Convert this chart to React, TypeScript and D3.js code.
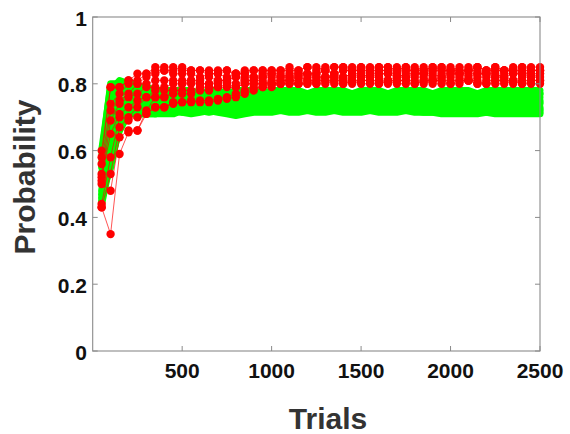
import React from "react";
import * as d3 from "d3";

const TRIALS = [
  50, 100, 150, 200, 250, 300, 350, 400, 450, 500,
  550, 600, 650, 700, 750, 800, 850, 900, 950, 1000,
  1050, 1100, 1150, 1200, 1250, 1300, 1350, 1400, 1450, 1500,
  1550, 1600, 1650, 1700, 1750, 1800, 1850, 1900, 1950, 2000,
  2050, 2100, 2150, 2200, 2250, 2300, 2350, 2400, 2450, 2500,
];

const X_TICKS = [500, 1000, 1500, 2000, 2500];
const Y_TICKS = [0, 0.2, 0.4, 0.6, 0.8, 1];
const Y_TICK_LABELS = ["0", "0.2", "0.4", "0.6", "0.8", "1"];
const X_LABEL = "Trials";
const Y_LABEL = "Probability";

const RED_1 = [
  0.60, 0.79, 0.79, 0.81, 0.83, 0.83, 0.85, 0.85, 0.85, 0.84,
  0.84, 0.84, 0.83, 0.83, 0.84, 0.83, 0.83, 0.84, 0.84, 0.84,
  0.84, 0.84, 0.84, 0.85, 0.84, 0.85, 0.85, 0.85, 0.85, 0.85,
  0.85, 0.85, 0.85, 0.84, 0.85, 0.85, 0.84, 0.85, 0.85, 0.84,
  0.85, 0.85, 0.85, 0.84, 0.85, 0.84, 0.85, 0.85, 0.85, 0.85,
];
const RED_2 = [
  0.56, 0.74, 0.77, 0.80, 0.80, 0.82, 0.83, 0.84, 0.83, 0.83,
  0.83, 0.82, 0.83, 0.83, 0.82, 0.83, 0.83, 0.82, 0.83, 0.83,
  0.83, 0.82, 0.83, 0.83, 0.83, 0.84, 0.83, 0.84, 0.84, 0.84,
  0.83, 0.84, 0.84, 0.83, 0.84, 0.84, 0.83, 0.84, 0.84, 0.84,
  0.83, 0.84, 0.84, 0.83, 0.84, 0.84, 0.84, 0.83, 0.84, 0.84,
];
const RED_3 = [
  0.53, 0.72, 0.75, 0.77, 0.80, 0.80, 0.81, 0.81, 0.81, 0.81,
  0.81, 0.81, 0.82, 0.81, 0.81, 0.82, 0.81, 0.81, 0.82, 0.82,
  0.82, 0.82, 0.82, 0.83, 0.82, 0.82, 0.83, 0.82, 0.83, 0.83,
  0.82, 0.83, 0.83, 0.83, 0.82, 0.83, 0.83, 0.82, 0.83, 0.83,
  0.83, 0.82, 0.83, 0.83, 0.83, 0.82, 0.83, 0.83, 0.82, 0.83,
];
const RED_4 = [
  0.51, 0.69, 0.74, 0.76, 0.77, 0.79, 0.79, 0.78, 0.78, 0.80,
  0.80, 0.80, 0.80, 0.80, 0.81, 0.80, 0.81, 0.81, 0.81, 0.80,
  0.81, 0.81, 0.82, 0.81, 0.81, 0.82, 0.82, 0.81, 0.82, 0.82,
  0.82, 0.82, 0.81, 0.82, 0.82, 0.82, 0.82, 0.81, 0.82, 0.82,
  0.82, 0.81, 0.82, 0.82, 0.82, 0.82, 0.81, 0.82, 0.82, 0.82,
];
const RED_5 = [
  0.52, 0.65, 0.71, 0.73, 0.75, 0.76, 0.76, 0.76, 0.78, 0.78,
  0.78, 0.79, 0.79, 0.79, 0.80, 0.79, 0.80, 0.80, 0.80, 0.80,
  0.80, 0.81, 0.80, 0.80, 0.81, 0.81, 0.81, 0.80, 0.81, 0.81,
  0.81, 0.80, 0.81, 0.81, 0.81, 0.81, 0.80, 0.81, 0.81, 0.81,
  0.81, 0.81, 0.80, 0.81, 0.81, 0.81, 0.81, 0.80, 0.81, 0.81,
];
const RED_6 = [
  0.44, 0.58, 0.70, 0.69, 0.70, 0.71, 0.73, 0.73, 0.745, 0.745,
  0.745, 0.75, 0.75, 0.755, 0.76, 0.77, 0.78, 0.79, 0.79, 0.80,
  0.80, 0.80, 0.80, 0.81, 0.80, 0.80, 0.81, 0.81, 0.80, 0.81,
  0.81, 0.81, 0.80, 0.81, 0.81, 0.80, 0.81, 0.81, 0.81, 0.80,
  0.81, 0.81, 0.81, 0.80, 0.81, 0.81, 0.80, 0.81, 0.81, 0.81,
];
const RED_7 = [
  0.43, 0.53, 0.67, 0.70, 0.73, 0.76, 0.78, 0.79, 0.80, 0.80,
  0.81, 0.80, 0.80, 0.81, 0.81, 0.82, 0.82, 0.82, 0.82, 0.83,
  0.82, 0.83, 0.83, 0.83, 0.83, 0.84, 0.83, 0.84, 0.84, 0.84,
  0.84, 0.84, 0.84, 0.85, 0.84, 0.84, 0.84, 0.85, 0.84, 0.84,
  0.84, 0.84, 0.85, 0.84, 0.84, 0.84, 0.84, 0.84, 0.84, 0.84,
];
const RED_8 = [
  0.50, 0.48, 0.64, 0.66, 0.66, 0.72, 0.76, 0.76, 0.77, 0.77,
  0.77, 0.78, 0.78, 0.79, 0.79, 0.79, 0.80, 0.80, 0.80, 0.81,
  0.81, 0.81, 0.81, 0.82, 0.82, 0.82, 0.82, 0.82, 0.83, 0.82,
  0.83, 0.83, 0.83, 0.82, 0.83, 0.83, 0.83, 0.83, 0.82, 0.83,
  0.83, 0.83, 0.83, 0.83, 0.82, 0.83, 0.83, 0.83, 0.83, 0.83,
];
const RED_9 = [
  0.43, 0.35, 0.59, 0.655, 0.66, 0.71, 0.73, 0.73, 0.74, 0.745,
  0.75, 0.745, 0.745, 0.75, 0.755, 0.76, 0.77, 0.78, 0.79, 0.79,
  0.80, 0.80, 0.80, 0.80, 0.80, 0.81, 0.80, 0.80, 0.81, 0.80,
  0.80, 0.80, 0.81, 0.80, 0.80, 0.80, 0.81, 0.80, 0.80, 0.80,
  0.80, 0.81, 0.80, 0.80, 0.80, 0.80, 0.81, 0.80, 0.80, 0.80,
];
const RED_10 = [
  0.58, 0.79, 0.79, 0.81, 0.81, 0.83, 0.84, 0.84, 0.84, 0.85,
  0.84, 0.84, 0.84, 0.84, 0.84, 0.83, 0.84, 0.84, 0.84, 0.84,
  0.84, 0.85, 0.84, 0.85, 0.85, 0.84, 0.85, 0.85, 0.84, 0.85,
  0.84, 0.85, 0.85, 0.84, 0.85, 0.84, 0.85, 0.84, 0.85, 0.85,
  0.84, 0.84, 0.85, 0.84, 0.85, 0.84, 0.84, 0.85, 0.84, 0.84,
];

const GREEN_1 = [
  0.58, 0.80, 0.80, 0.80, 0.79, 0.79, 0.78, 0.78, 0.78, 0.78,
  0.78, 0.77, 0.78, 0.78, 0.77, 0.78, 0.78, 0.78, 0.77, 0.78,
  0.78, 0.78, 0.78, 0.77, 0.78, 0.78, 0.78, 0.78, 0.77, 0.78,
  0.78, 0.78, 0.77, 0.78, 0.78, 0.78, 0.78, 0.77, 0.78, 0.78,
  0.78, 0.78, 0.77, 0.78, 0.78, 0.78, 0.78, 0.78, 0.78, 0.78,
];
const GREEN_2 = [
  0.55, 0.78, 0.81, 0.80, 0.78, 0.77, 0.77, 0.77, 0.76, 0.77,
  0.77, 0.76, 0.76, 0.77, 0.76, 0.76, 0.77, 0.76, 0.77, 0.77,
  0.77, 0.77, 0.76, 0.77, 0.77, 0.77, 0.76, 0.77, 0.77, 0.77,
  0.77, 0.76, 0.77, 0.77, 0.77, 0.77, 0.76, 0.77, 0.77, 0.77,
  0.77, 0.77, 0.76, 0.77, 0.77, 0.77, 0.77, 0.76, 0.77, 0.77,
];
const GREEN_3 = [
  0.52, 0.74, 0.79, 0.81, 0.79, 0.77, 0.76, 0.75, 0.75, 0.76,
  0.76, 0.75, 0.75, 0.75, 0.75, 0.76, 0.76, 0.76, 0.75, 0.76,
  0.76, 0.76, 0.75, 0.76, 0.76, 0.76, 0.76, 0.75, 0.76, 0.76,
  0.76, 0.76, 0.75, 0.76, 0.76, 0.76, 0.75, 0.76, 0.76, 0.76,
  0.76, 0.75, 0.76, 0.76, 0.76, 0.76, 0.75, 0.76, 0.76, 0.76,
];
const GREEN_4 = [
  0.50, 0.70, 0.77, 0.78, 0.77, 0.75, 0.74, 0.74, 0.74, 0.74,
  0.75, 0.75, 0.74, 0.74, 0.75, 0.75, 0.75, 0.74, 0.75, 0.75,
  0.75, 0.74, 0.75, 0.75, 0.75, 0.75, 0.74, 0.75, 0.75, 0.75,
  0.74, 0.75, 0.75, 0.75, 0.75, 0.74, 0.75, 0.75, 0.75, 0.75,
  0.74, 0.75, 0.75, 0.75, 0.74, 0.75, 0.75, 0.75, 0.75, 0.75,
];
const GREEN_5 = [
  0.48, 0.66, 0.74, 0.76, 0.75, 0.74, 0.74, 0.73, 0.73, 0.74,
  0.74, 0.73, 0.74, 0.74, 0.73, 0.73, 0.74, 0.74, 0.74, 0.73,
  0.74, 0.74, 0.74, 0.73, 0.74, 0.74, 0.74, 0.74, 0.73, 0.74,
  0.74, 0.74, 0.73, 0.74, 0.74, 0.74, 0.74, 0.73, 0.74, 0.74,
  0.74, 0.73, 0.74, 0.74, 0.74, 0.74, 0.73, 0.74, 0.74, 0.74,
];
const GREEN_6 = [
  0.46, 0.62, 0.72, 0.75, 0.74, 0.73, 0.73, 0.73, 0.72, 0.73,
  0.73, 0.73, 0.72, 0.73, 0.73, 0.72, 0.73, 0.73, 0.73, 0.73,
  0.72, 0.73, 0.73, 0.73, 0.73, 0.72, 0.73, 0.73, 0.73, 0.73,
  0.73, 0.72, 0.73, 0.73, 0.73, 0.73, 0.72, 0.73, 0.73, 0.73,
  0.73, 0.73, 0.72, 0.73, 0.73, 0.73, 0.72, 0.73, 0.73, 0.73,
];
const GREEN_7 = [
  0.45, 0.58, 0.70, 0.73, 0.72, 0.72, 0.715, 0.72, 0.72, 0.72,
  0.725, 0.72, 0.72, 0.72, 0.715, 0.71, 0.715, 0.72, 0.72, 0.725,
  0.72, 0.72, 0.725, 0.72, 0.72, 0.72, 0.725, 0.72, 0.72, 0.72,
  0.725, 0.72, 0.72, 0.72, 0.725, 0.72, 0.72, 0.725, 0.72, 0.72,
  0.72, 0.725, 0.72, 0.72, 0.72, 0.725, 0.72, 0.72, 0.72, 0.725,
];
const GREEN_8 = [
  0.47, 0.55, 0.68, 0.72, 0.71, 0.71, 0.71, 0.715, 0.72, 0.715,
  0.71, 0.715, 0.72, 0.715, 0.71, 0.705, 0.71, 0.715, 0.715, 0.715,
  0.72, 0.715, 0.715, 0.72, 0.715, 0.715, 0.72, 0.715, 0.715, 0.715,
  0.72, 0.715, 0.715, 0.715, 0.72, 0.715, 0.715, 0.715, 0.71, 0.71,
  0.71, 0.71, 0.71, 0.715, 0.71, 0.71, 0.71, 0.71, 0.71, 0.71,
];
const GREEN_9 = [
  0.53, 0.68, 0.74, 0.76, 0.73, 0.72, 0.71, 0.71, 0.71, 0.72,
  0.72, 0.72, 0.715, 0.72, 0.72, 0.72, 0.72, 0.725, 0.72, 0.72,
  0.725, 0.72, 0.725, 0.72, 0.72, 0.725, 0.72, 0.72, 0.72, 0.725,
  0.72, 0.72, 0.72, 0.72, 0.72, 0.72, 0.715, 0.715, 0.715, 0.72,
  0.715, 0.715, 0.715, 0.715, 0.715, 0.72, 0.715, 0.715, 0.715, 0.715,
];
const GREEN_10 = [
  0.60, 0.79, 0.80, 0.79, 0.76, 0.75, 0.74, 0.74, 0.74, 0.745,
  0.75, 0.755, 0.75, 0.755, 0.76, 0.755, 0.76, 0.765, 0.76, 0.765,
  0.77, 0.765, 0.77, 0.765, 0.77, 0.77, 0.765, 0.77, 0.77, 0.765,
  0.77, 0.77, 0.765, 0.77, 0.765, 0.77, 0.77, 0.765, 0.77, 0.77,
  0.765, 0.77, 0.77, 0.765, 0.77, 0.77, 0.765, 0.77, 0.77, 0.77,
];
const GREEN_11 = [
  0.44, 0.57, 0.66, 0.71, 0.71, 0.71, 0.71, 0.715, 0.72, 0.715,
  0.72, 0.72, 0.725, 0.72, 0.715, 0.71, 0.715, 0.72, 0.72, 0.72,
  0.72, 0.725, 0.72, 0.72, 0.72, 0.72, 0.725, 0.72, 0.725, 0.72,
  0.72, 0.72, 0.72, 0.72, 0.72, 0.72, 0.72, 0.72, 0.72, 0.72,
  0.72, 0.72, 0.72, 0.715, 0.72, 0.72, 0.72, 0.72, 0.72, 0.72,
];
const GREEN_12 = [
  0.56, 0.76, 0.78, 0.78, 0.76, 0.74, 0.73, 0.73, 0.735, 0.74,
  0.735, 0.74, 0.74, 0.745, 0.74, 0.745, 0.745, 0.74, 0.745, 0.745,
  0.745, 0.745, 0.74, 0.745, 0.745, 0.75, 0.745, 0.745, 0.75, 0.745,
  0.745, 0.75, 0.745, 0.745, 0.745, 0.75, 0.745, 0.745, 0.75, 0.745,
  0.745, 0.75, 0.745, 0.745, 0.75, 0.745, 0.745, 0.75, 0.745, 0.745,
];

const RED_SERIES = [RED_1, RED_2, RED_3, RED_4, RED_5, RED_6, RED_7, RED_8, RED_9, RED_10];
const GREEN_SERIES = [
  GREEN_1, GREEN_2, GREEN_3, GREEN_4, GREEN_5, GREEN_6,
  GREEN_7, GREEN_8, GREEN_9, GREEN_10, GREEN_11, GREEN_12,
];

const W = 570;
const H = 434;
const M = { left: 92.7, right: 540, top: 17, bottom: 351 };
const AXIS_COLOR = "#8a8a8a";
const FONT = "'Liberation Sans', Arial, Helvetica, sans-serif";

export default function App() {
  const x = d3.scaleLinear().domain([0, 2500]).range([M.left, M.right]);
  const y = d3.scaleLinear().domain([0, 1]).range([M.bottom, M.top]);
  const line = d3
    .line<number>()
    .x((_, i) => x(TRIALS[i]))
    .y((d) => y(d));

  const tickLen = 5;

  return (
    <svg
      width={W}
      height={H}
      style={{ position: "absolute", left: 0, top: 0, background: "#fff" }}
      fontFamily={FONT}
    >
      <rect x={0} y={0} width={W} height={H} fill="#fff" />
      {/* green series */}
      <g fill="none" stroke="#00ff00" strokeWidth={7} strokeLinejoin="round" strokeLinecap="round">
        {GREEN_SERIES.map((s, k) => (
          <path key={k} d={line(s) || ""} />
        ))}
      </g>
      {/* red series */}
      {RED_SERIES.map((s, k) => (
        <g key={k}>
          <path d={line(s) || ""} fill="none" stroke="#ff0000" strokeWidth={0.9} strokeOpacity={0.75} />
          {s.map((v, i) => (
            <circle key={i} cx={x(TRIALS[i])} cy={y(v)} r={4.2} fill="#ff0000" />
          ))}
        </g>
      ))}
      {/* axes box */}
      <rect
        x={M.left}
        y={M.top}
        width={M.right - M.left}
        height={M.bottom - M.top}
        fill="none"
        stroke={AXIS_COLOR}
        strokeWidth={1.1}
      />
      {/* x ticks */}
      {X_TICKS.map((t) => (
        <g key={"xt" + t}>
          <line x1={x(t)} x2={x(t)} y1={M.bottom} y2={M.bottom - tickLen} stroke={AXIS_COLOR} />
          <line x1={x(t)} x2={x(t)} y1={M.top} y2={M.top + tickLen} stroke={AXIS_COLOR} />
          <text
            x={x(t)}
            y={378}
            textAnchor="middle"
            fontSize={21}
            fontWeight="bold"
            fill="#111"
          >
            {t}
          </text>
        </g>
      ))}
      {/* y ticks */}
      {Y_TICKS.map((t, i) => (
        <g key={"yt" + t}>
          <line x1={M.left} x2={M.left + tickLen} y1={y(t)} y2={y(t)} stroke={AXIS_COLOR} />
          <line x1={M.right} x2={M.right - tickLen} y1={y(t)} y2={y(t)} stroke={AXIS_COLOR} />
          <text
            x={87}
            y={y(t) + 8.5}
            textAnchor="end"
            fontSize={21}
            fontWeight="bold"
            fill="#111"
          >
            {Y_TICK_LABELS[i]}
          </text>
        </g>
      ))}
      <text x={328} y={429} textAnchor="middle" fontSize={30} fontWeight="bold" fill="#333">
        {X_LABEL}
      </text>
      <text
        transform={`translate(35, 177) rotate(-90)`}
        textAnchor="middle"
        fontSize={30}
        fontWeight="bold"
        fill="#333"
      >
        {Y_LABEL}
      </text>
    </svg>
  );
}
